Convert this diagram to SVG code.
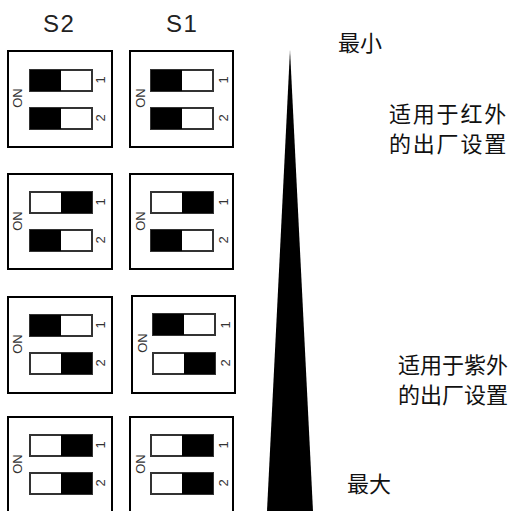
<svg xmlns="http://www.w3.org/2000/svg" width="518" height="511" viewBox="0 0 518 511">
<defs>
<style>
.box{fill:#fff;stroke:#000;stroke-width:2}
.sw{fill:#fff;stroke:#333;stroke-width:2}
.blk{fill:#000}
.pcb{font-family:"Liberation Sans",Arial,sans-serif;font-size:13px;fill:#333}
.hdr{font-family:"Liberation Sans",Arial,sans-serif;font-size:24px;fill:#222;letter-spacing:1.5px}
.cn{font-family:"Noto Sans CJK SC","Noto Sans",sans-serif;font-size:22px;fill:#111}
</style>
</defs>
<rect width="518" height="511" fill="#fff"/>
<text class="hdr" x="43" y="32">S2</text>
<text class="hdr" x="166" y="32">S1</text>

<g id="s2-row1">
<rect class="box" x="8" y="51" width="104" height="96"/>
<rect class="sw" x="30" y="70" width="62" height="21"/><rect class="blk" x="30" y="70" width="31" height="21"/>
<rect class="sw" x="30" y="108" width="62" height="21"/><rect class="blk" x="30" y="108" width="31" height="21"/>
<text class="pcb" transform="translate(17.5,98) rotate(-90)" text-anchor="middle" dominant-baseline="central">ON</text>
<text class="pcb" transform="translate(100,80) rotate(-90)" text-anchor="middle" dominant-baseline="central">1</text>
<text class="pcb" transform="translate(100,118) rotate(-90)" text-anchor="middle" dominant-baseline="central">2</text>
</g>
<g id="s1-row1">
<rect class="box" x="130" y="51" width="103" height="96"/>
<rect class="sw" x="151" y="70" width="62" height="21"/><rect class="blk" x="151" y="70" width="31" height="21"/>
<rect class="sw" x="151" y="108" width="62" height="21"/><rect class="blk" x="151" y="108" width="31" height="21"/>
<text class="pcb" transform="translate(140,98) rotate(-90)" text-anchor="middle" dominant-baseline="central">ON</text>
<text class="pcb" transform="translate(223,80) rotate(-90)" text-anchor="middle" dominant-baseline="central">1</text>
<text class="pcb" transform="translate(223,118) rotate(-90)" text-anchor="middle" dominant-baseline="central">2</text>
</g>

<g id="s2-row2">
<rect class="box" x="8" y="174" width="104" height="95"/>
<rect class="sw" x="30" y="192" width="62" height="21"/><rect class="blk" x="61" y="192" width="31" height="21"/>
<rect class="sw" x="30" y="230" width="62" height="21"/><rect class="blk" x="30" y="230" width="31" height="21"/>
<text class="pcb" transform="translate(17.5,221) rotate(-90)" text-anchor="middle" dominant-baseline="central">ON</text>
<text class="pcb" transform="translate(100,202) rotate(-90)" text-anchor="middle" dominant-baseline="central">1</text>
<text class="pcb" transform="translate(100,240) rotate(-90)" text-anchor="middle" dominant-baseline="central">2</text>
</g>
<g id="s1-row2">
<rect class="box" x="130" y="174" width="103" height="95"/>
<rect class="sw" x="151" y="192" width="62" height="21"/><rect class="blk" x="182" y="192" width="31" height="21"/>
<rect class="sw" x="151" y="230" width="62" height="21"/><rect class="blk" x="151" y="230" width="31" height="21"/>
<text class="pcb" transform="translate(140,221) rotate(-90)" text-anchor="middle" dominant-baseline="central">ON</text>
<text class="pcb" transform="translate(223,202) rotate(-90)" text-anchor="middle" dominant-baseline="central">1</text>
<text class="pcb" transform="translate(223,240) rotate(-90)" text-anchor="middle" dominant-baseline="central">2</text>
</g>

<g id="s2-row3">
<rect class="box" x="8" y="297" width="104" height="96"/>
<rect class="sw" x="30" y="315" width="62" height="21"/><rect class="blk" x="30" y="315" width="31" height="21"/>
<rect class="sw" x="30" y="353" width="62" height="21"/><rect class="blk" x="61" y="353" width="31" height="21"/>
<text class="pcb" transform="translate(17.5,344) rotate(-90)" text-anchor="middle" dominant-baseline="central">ON</text>
<text class="pcb" transform="translate(100,325) rotate(-90)" text-anchor="middle" dominant-baseline="central">1</text>
<text class="pcb" transform="translate(100,363) rotate(-90)" text-anchor="middle" dominant-baseline="central">2</text>
</g>
<g id="s1-row3">
<rect class="box" x="132" y="296" width="103" height="97"/>
<rect class="sw" x="153" y="314" width="62" height="21"/><rect class="blk" x="153" y="314" width="31" height="21"/>
<rect class="sw" x="153" y="353" width="62" height="21"/><rect class="blk" x="184" y="353" width="31" height="21"/>
<text class="pcb" transform="translate(142,343) rotate(-90)" text-anchor="middle" dominant-baseline="central">ON</text>
<text class="pcb" transform="translate(225,325) rotate(-90)" text-anchor="middle" dominant-baseline="central">1</text>
<text class="pcb" transform="translate(225,363) rotate(-90)" text-anchor="middle" dominant-baseline="central">2</text>
</g>

<g id="s2-row4">
<rect class="box" x="8" y="417" width="104" height="96"/>
<rect class="sw" x="30" y="435" width="62" height="21"/><rect class="blk" x="61" y="435" width="31" height="21"/>
<rect class="sw" x="30" y="473" width="62" height="21"/><rect class="blk" x="61" y="473" width="31" height="21"/>
<text class="pcb" transform="translate(17.5,464) rotate(-90)" text-anchor="middle" dominant-baseline="central">ON</text>
<text class="pcb" transform="translate(100,445) rotate(-90)" text-anchor="middle" dominant-baseline="central">1</text>
<text class="pcb" transform="translate(100,483) rotate(-90)" text-anchor="middle" dominant-baseline="central">2</text>
</g>
<g id="s1-row4">
<rect class="box" x="130" y="417" width="103" height="96"/>
<rect class="sw" x="151" y="435" width="62" height="21"/><rect class="blk" x="182" y="435" width="31" height="21"/>
<rect class="sw" x="151" y="473" width="62" height="21"/><rect class="blk" x="182" y="473" width="31" height="21"/>
<text class="pcb" transform="translate(140,464) rotate(-90)" text-anchor="middle" dominant-baseline="central">ON</text>
<text class="pcb" transform="translate(223,445) rotate(-90)" text-anchor="middle" dominant-baseline="central">1</text>
<text class="pcb" transform="translate(223,483) rotate(-90)" text-anchor="middle" dominant-baseline="central">2</text>
</g>

<polygon points="290,50 313,511 267,511" fill="#000"/>

<text class="cn" x="338" y="51">最小</text>
<text class="cn" x="389" y="122" letter-spacing="1.8">适用于红外</text>
<text class="cn" x="389" y="152" letter-spacing="1.8">的出厂设置</text>
<text class="cn" x="398" y="373">适用于紫外</text>
<text class="cn" x="398" y="403">的出厂设置</text>
<text class="cn" x="347" y="492">最大</text>
</svg>
